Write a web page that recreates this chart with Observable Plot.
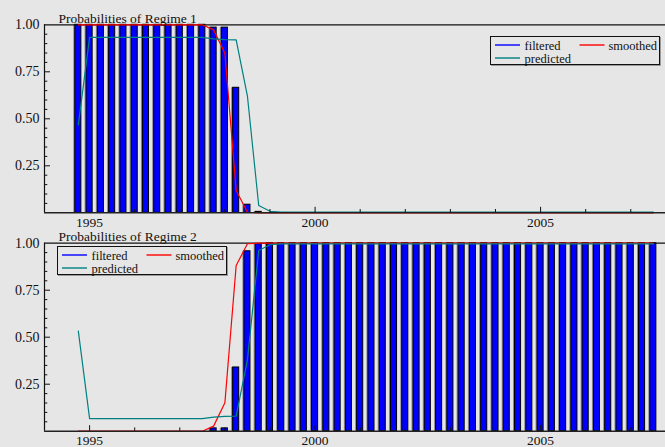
<!DOCTYPE html>
<html><head><meta charset="utf-8">
<script src="https://cdn.jsdelivr.net/npm/d3@7"></script>
<script src="https://cdn.jsdelivr.net/npm/@observablehq/plot@0.6"></script>
<style>
body{margin:0;background:#e6e6e6;}
#chart{position:relative;width:665px;height:447px;overflow:hidden;background:#e6e6e6;font-family:'Liberation Serif','Times New Roman',serif;color:#111;}
.panel{position:absolute;left:0;}
.legend{position:absolute;border:1px solid #111;box-sizing:border-box;box-shadow:1px 1px 0 #9a9a9a;font-size:12.5px;}
.legend svg{position:absolute;left:0;top:0;overflow:visible;}
.legend .lb{position:absolute;line-height:1;white-space:nowrap;}
</style></head><body><div id="chart"></div><script>
// quarterly observation dates (1994Q4 .. 2007Q3 as year fractions)
const quarters = [1994.75,
 1995,1995.25,1995.5,1995.75, 1996,1996.25,1996.5,1996.75, 1997,1997.25,1997.5,1997.75,
 1998,1998.25,1998.5,1998.75, 1999,1999.25,1999.5,1999.75, 2000,2000.25,2000.5,2000.75,
 2001,2001.25,2001.5,2001.75, 2002,2002.25,2002.5,2002.75, 2003,2003.25,2003.5,2003.75,
 2004,2004.25,2004.5,2004.75, 2005,2005.25,2005.5,2005.75, 2006,2006.25,2006.5,2006.75,
 2007,2007.25,2007.5];

const regime1Filtered = [1,1,1,1,1,1,1,1,1,1,1,1, 0.985,0.985,0.665,0.043,0.005,
 0,0,0,0,0,0,0,0,0,0,0,0,0,0,0,0,0,0,0,0,0,0,0,0,0,0,0,0,0,0,0,0,0,0,0,0];
const regime1Smoothed = [1,1,1,1,1,1,1,1,1,1,1,1, 0.973,0.849,0.119,0.003,
 0,0,0,0,0,0,0,0,0,0,0,0,0,0,0,0,0,0,0,0,0,0,0,0,0,0,0,0,0,0,0,0,0,0,0,0];
const regime1Predicted = [0.468, 0.933,0.933,0.933,0.933,0.933,0.933,0.933,0.933,0.933,0.933,0.933,
 0.925,0.921,0.92,0.62,0.039,0.008,
 0.004,0.004,0.004,0.004,0.004,0.004,0.004,0.004,0.004,0.004,0.004,0.004,0.004,0.004,0.004,0.004,0.004,
 0.004,0.004,0.004,0.004,0.004,0.004,0.004,0.004,0.004,0.004,0.004,0.004,0.004,0.004,0.004,0.004,0.004];

const regime2Filtered = [0,0,0,0,0,0,0,0,0,0,0,0, 0.015,0.015,0.339,0.957,0.995,
 1,1,1,1,1,1,1,1,1,1,1,1,1,1,1,1,1,1,1,1,1,1,1,1,1,1,1,1,1,1,1,1,1,1,1,1];
const regime2Smoothed = [0,0,0,0,0,0,0,0,0,0,0,0, 0.027,0.151,0.881,0.997,
 1,1,1,1,1,1,1,1,1,1,1,1,1,1,1,1,1,1,1,1,1,1,1,1,1,1,1,1,1,1,1,1,1,1,1,1];
const regime2Predicted = [0.532, 0.067,0.067,0.067,0.067,0.067,0.067,0.067,0.067,0.067,0.067,0.067,
 0.075,0.079,0.08,0.38,0.961,0.992,
 0.996,0.996,0.996,0.996,0.996,0.996,0.996,0.996,0.996,0.996,0.996,0.996,0.996,0.996,0.996,0.996,0.996,
 0.996,0.996,0.996,0.996,0.996,0.996,0.996,0.996,0.996,0.996,0.996,0.996,0.996,0.996,0.996,0.996,0.996];

const yTickValues = [0.25, 0.5, 0.75, 1];
const yMinorTicks = [0.05,0.1,0.15,0.2,0.3,0.35,0.4,0.45,0.55,0.6,0.65,0.7,0.8,0.85,0.9,0.95];
const xLabelYears = [1995, 2000, 2005];
const xMinorYears = [1996,1997,1998,1999,2001,2002,2003,2004,2006,2007];
const titles = ["Probabilities of Regime 1", "Probabilities of Regime 2"];
const seriesNames = ["filtered", "smoothed", "predicted"];
const seriesColors = ["#0000ff", "#ff0000", "#008080"];

const X0 = 1994, X1 = 2007.77;
const pxPerYear = (665 - 44) / (X1 - X0);

function panel(title, filt, smooth, pred, {height, marginTop, marginBottom}) {
  const data = quarters.map((t, i) => ({t, f: filt[i], s: smooth[i], p: pred[i]}));
  const pxY = 1 / (height - marginTop - marginBottom);
  return Plot.plot({
    width: 665, height, marginLeft: 44, marginRight: 0, marginTop, marginBottom,
    style: {background: "transparent", fontFamily: "'Liberation Serif','Times New Roman',serif", fontSize: "14px", color: "#111", overflow: "visible"},
    x: {domain: [X0, X1]},
    y: {domain: [0, 1]},
    marks: [
      Plot.rectY(data, {x1: d => d.t - 0.125, x2: d => d.t + 0.125, y1: 0, y2: "f", insetLeft: 2.6, insetRight: 2.6, dx: -1.5, fill: "#8a8a8a"}),
      Plot.rectY(data, {x1: d => d.t - 0.125, x2: d => d.t + 0.125, y1: 0, y2: "f", insetLeft: 2.6, insetRight: 2.6, fill: seriesColors[0], stroke: "#000", strokeWidth: 1}),
      Plot.ruleY([1], {stroke: "#111", strokeWidth: 1.2}),
      Plot.ruleX([X0], {y1: 0, y2: 1, stroke: "#111", strokeWidth: 1.2}),
      Plot.line(data, {x: "t", y: "s", stroke: seriesColors[1], strokeWidth: 1.2}),
      Plot.line(data, {x: "t", y: "p", stroke: seriesColors[2], strokeWidth: 1.2}),
      Plot.ruleY([0], {stroke: "#222", strokeWidth: 1.6}),
      Plot.ruleY(yTickValues.slice(0, 3), {y: d => d, x1: X0, x2: X0 + 6 / pxPerYear, stroke: "#111"}),
      Plot.ruleY(yMinorTicks, {y: d => d, x1: X0, x2: X0 + 3.3 / pxPerYear, stroke: "#111"}),
      Plot.ruleX(xLabelYears, {x: d => d, y1: 0, y2: 5.5 * pxY, stroke: "#111"}),
      Plot.ruleX(xMinorYears, {x: d => d, y1: 0, y2: 3.3 * pxY, stroke: "#111"}),
      Plot.axisY({ticks: yTickValues, tickFormat: d3.format(".2f"), tickSize: 0, tickPadding: 5, label: null, fontSize: 14}),
      Plot.axisX({ticks: xLabelYears, tickFormat: d => String(d), tickSize: 0, tickPadding: 4.5, label: null, fontSize: 13.5}),
      Plot.text([title], {frameAnchor: "top-left", textAnchor: "start", lineAnchor: "bottom", dx: 14, dy: -2.2, fontSize: 13.5, fill: "#111"})
    ]
  });
}

function legend(left, top) {
  const box = document.createElement("div");
  box.className = "legend";
  Object.assign(box.style, {left: left + "px", top: top + "px", width: "170px", height: "29px"});
  const items = [
    {x: 4, y: 8, lx: 33.5, ly: 2.5},
    {x: 88.5, y: 8, lx: 117.5, ly: 2.5},
    {x: 4, y: 21, lx: 33.5, ly: 15.5}
  ];
  const svg = d3.create("svg").attr("width", 170).attr("height", 29);
  svg.selectAll("line").data(items).join("line")
    .attr("x1", d => d.x).attr("x2", d => d.x + 25)
    .attr("y1", d => d.y).attr("y2", d => d.y)
    .attr("stroke", (d, i) => seriesColors[i]).attr("stroke-width", 1.4);
  box.append(svg.node());
  items.forEach((it, i) => {
    const lb = document.createElement("div");
    lb.className = "lb";
    lb.textContent = seriesNames[i];
    Object.assign(lb.style, {left: it.lx + "px", top: it.ly + "px"});
    box.append(lb);
  });
  return box;
}

const chart = document.getElementById("chart");
const p1 = panel(titles[0], regime1Filtered, regime1Smoothed, regime1Predicted, {height: 235, marginTop: 24.3, marginBottom: 22.7});
p1.classList.add("panel"); p1.style.top = "0px";
const p2 = panel(titles[1], regime2Filtered, regime2Smoothed, regime2Predicted, {height: 229, marginTop: 24.7, marginBottom: 16.3});
p2.classList.add("panel"); p2.style.top = "218px";
chart.append(p1, p2, legend(490, 36), legend(57, 246));
</script></body></html>
